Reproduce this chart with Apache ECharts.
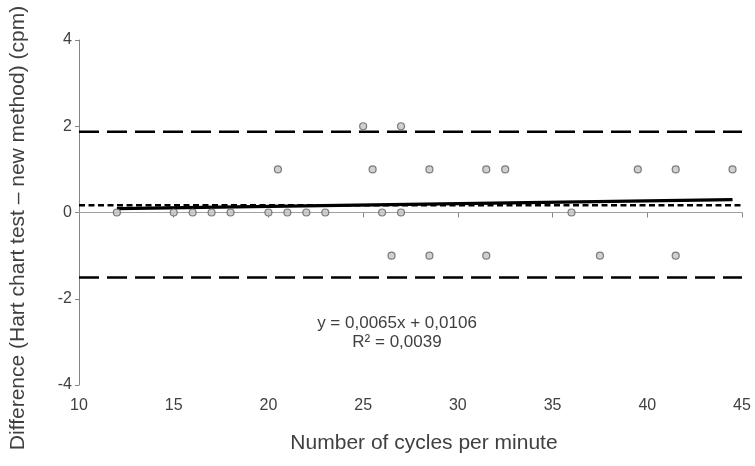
<!DOCTYPE html>
<html>
<head>
<meta charset="utf-8">
<script src="https://cdn.jsdelivr.net/npm/echarts@6/dist/echarts.min.js"></script>
<style>html,body{margin:0;padding:0;background:#fff;}#c{width:755px;height:466px;}</style>
</head>
<body>
<div id="c"></div>
<script>
// Number of cycles per minute (x) and difference (y)
const cyclesX = [12, 15, 16, 17, 18, 20, 21, 22, 23, 20.5, 25, 27, 25.5, 26, 27, 26.5, 28.5, 31.5, 32.5, 39.5, 41.5, 44.5, 36, 28.5, 31.5, 37.5, 41.5];
const diffY   = [0, 0, 0, 0, 0, 0, 0, 0, 0, 1, 2, 2, 1, 0, 0, -1, 1, 1, 1, 1, 1, 1, 0, -1, -1, -1, -1];
// Reference lines
const upperLoA = 1.87;
const lowerLoA = -1.51;
const meanBias = 0.17;
const trendX = [12, 44.5];
const trendY = [0.09, 0.30];
const xTicks = [10, 15, 20, 25, 30, 35, 40, 45];
const yTicks = [-4, -2, 0, 2, 4];
const xTitle = 'Number of cycles per minute';
const yTitle = 'Difference (Hart chart test – new method) (cpm)';
const equationLines = ['y = 0,0065x + 0,0106', 'R² = 0,0039'];

const xMin = xTicks[0], xMax = xTicks[xTicks.length - 1];
const yMin = yTicks[0], yMax = yTicks[yTicks.length - 1];

const chart = echarts.init(document.getElementById('c'));
const font = 'Liberation Sans, Arial, sans-serif';
const hline = (v) => [[xMin, v], [xMax, v]];

chart.setOption({
  animation: false,
  backgroundColor: '#fff',
  grid: { left: 79, right: 13, top: 40, bottom: 81, containLabel: false },
  xAxis: {
    type: 'value', min: xMin, max: xMax, interval: 5,
    axisLine: { show: true, lineStyle: { color: '#868686', width: 1 } },
    axisTick: { show: true, length: 5, lineStyle: { color: '#868686' } },
    axisLabel: { margin: 13, fontFamily: font, fontSize: 16, color: '#404040' },
    splitLine: { show: false }
  },
  yAxis: {
    type: 'value', min: yMin, max: yMax, interval: 2,
    axisLine: { show: true, onZero: false, lineStyle: { color: '#868686', width: 1 } },
    axisTick: { show: true, length: 4, lineStyle: { color: '#868686' } },
    axisLabel: { margin: 7, fontFamily: font, fontSize: 16, color: '#404040' },
    splitLine: { show: false }
  },
  graphic: [
    {
      type: 'text', x: 18, y: 228, rotation: Math.PI / 2,
      style: { text: yTitle, font: '21px ' + font, fill: '#404040', align: 'center', verticalAlign: 'middle' }
    },
    {
      type: 'text', x: 424, y: 443,
      style: { text: xTitle, font: '21px ' + font, fill: '#404040', align: 'center', verticalAlign: 'middle' }
    },
    {
      type: 'text', x: 397, y: 323,
      style: { text: equationLines[0], font: '17px ' + font, fill: '#404040', align: 'center', verticalAlign: 'middle' }
    },
    {
      type: 'text', x: 397, y: 342,
      style: { text: equationLines[1], font: '17px ' + font, fill: '#404040', align: 'center', verticalAlign: 'middle' }
    }
  ],
  series: [
    { type: 'line', data: hline(0), symbol: 'none', lineStyle: { color: '#a0a0a0', width: 1 }, z: 1, silent: true },
    { type: 'line', data: hline(upperLoA), symbol: 'none', lineStyle: { color: '#000', width: 2.5, type: [20, 8] }, z: 2 },
    { type: 'line', data: hline(lowerLoA), symbol: 'none', lineStyle: { color: '#000', width: 2.5, type: [20, 8] }, z: 2 },
    { type: 'line', data: hline(meanBias), symbol: 'none', lineStyle: { color: '#000', width: 2.5, type: [6, 3.5] }, z: 2 },
    { type: 'line', data: trendX.map((x, i) => [x, trendY[i]]), symbol: 'none', lineStyle: { color: '#000', width: 3.2 }, z: 3 },
    {
      type: 'scatter', data: cyclesX.map((x, i) => [x, diffY[i]]),
      symbol: 'circle', symbolSize: 7,
      itemStyle: { color: '#c4c4c4', borderColor: '#5f5f5f', borderWidth: 1.2 }, z: 5
    }
  ]
});
</script>
</body>
</html>
